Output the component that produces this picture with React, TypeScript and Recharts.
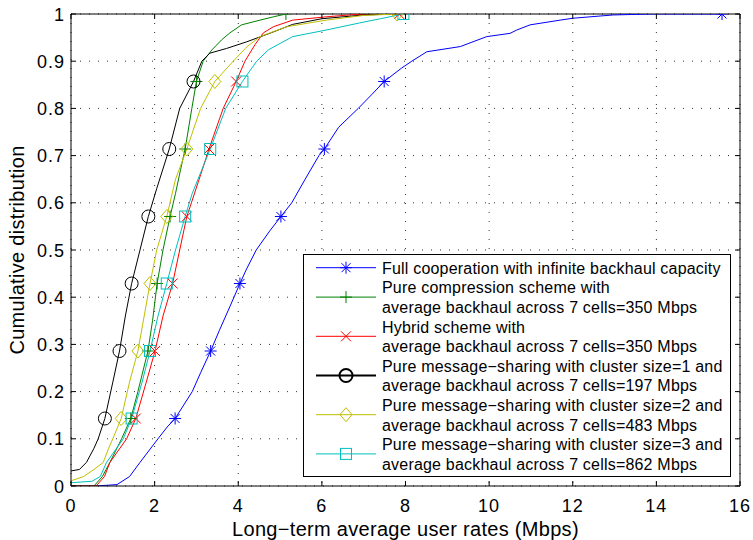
import { ComposedChart, Line, XAxis, YAxis, CartesianGrid, ReferenceLine } from 'recharts';

// CDF levels at which MATLAB put the markers (every 1/7 of users)
const MARK_LEVELS = [0.143, 0.286, 0.429, 0.571, 0.714, 0.857, 1];

const X_TICKS = [0, 2, 4, 6, 8, 10, 12, 14, 16];
const Y_TICKS = [0, 0.1, 0.2, 0.3, 0.4, 0.5, 0.6, 0.7, 0.8, 0.9, 1];

// [rate (Mbps), cumulative fraction]
const fullCoopPts = [
  [0, 0], [0.6, 0], [1.1, 0.003], [1.4, 0.02], [1.65, 0.05], [2.08, 0.1], [2.3, 0.125],
  [2.9, 0.2], [3.1, 0.24], [3.55, 0.33], [3.8, 0.38], [4.2, 0.46], [4.43, 0.5],
  [4.75, 0.54], [5.28, 0.6], [5.6, 0.65], [5.93, 0.7], [6.4, 0.76], [6.87, 0.8],
  [7.2, 0.83], [7.9, 0.885], [8.15, 0.9], [8.51, 0.92], [9.31, 0.931], [9.94, 0.952],
  [10.5, 0.959], [10.66, 0.966], [10.98, 0.977], [11.7, 0.987], [12.0, 0.991],
  [12.97, 0.998], [13.9, 1],
];
const fullCoopMarks = [2.49, 3.34, 4.04, 5.02, 6.06, 7.49, 15.57];

const compressPts = [
  [0, 0], [0.55, 0], [0.75, 0.02], [0.93, 0.05], [1.21, 0.1], [1.6, 0.2], [1.95, 0.35],
  [2.2, 0.5], [2.5, 0.62], [2.62, 0.67], [2.89, 0.8], [3.16, 0.9], [3.37, 0.924],
  [3.6, 0.945], [3.8, 0.96], [4.08, 0.977], [4.52, 0.987], [4.84, 0.994],
];
const compressMarks = [1.43, 1.84, 2.06, 2.37, 2.73, 3.0, 5.14];

const hybridPts = [
  [0, 0], [0.6, 0], [0.8, 0.02], [0.93, 0.05], [1.33, 0.1], [1.8, 0.22], [2.2, 0.36],
  [2.6, 0.5], [2.88, 0.6], [3.25, 0.7], [3.64, 0.8], [4.16, 0.9], [4.4, 0.935],
  [4.6, 0.96], [4.84, 0.973], [5.3, 0.987], [6.1, 0.994], [6.8, 0.999],
];
const hybridMarks = [1.55, 2.01, 2.43, 2.77, 3.3, 3.95, 7.85];

const share1Pts = [
  [0, 0.032], [0.2, 0.035], [0.37, 0.05], [0.55, 0.08], [0.65, 0.1], [1.0, 0.22],
  [1.3, 0.36], [1.65, 0.5], [2.05, 0.63], [2.6, 0.8], [3.13, 0.9], [3.32, 0.917],
  [3.72, 0.927], [4.2, 0.941], [4.84, 0.962], [5.3, 0.978], [6.0, 0.99], [7.0, 0.998],
  [7.8, 1],
];
const share1Marks = [0.81, 1.16, 1.45, 1.85, 2.35, 2.93];

const share2Pts = [
  [0, 0.011], [0.3, 0.02], [0.55, 0.035], [0.77, 0.05], [0.9, 0.08], [1.0, 0.1],
  [1.4, 0.22], [1.75, 0.36], [2.05, 0.5], [2.5, 0.65], [3.1, 0.8], [3.88, 0.9],
  [4.2, 0.93], [4.52, 0.952], [5.16, 0.973], [6.1, 0.987], [7.0, 0.997],
];
const share2Marks = [1.2, 1.6, 1.89, 2.29, 2.77, 3.44, 7.8];

const share3Pts = [
  [0, 0.007], [0.5, 0.01], [0.7, 0.02], [0.85, 0.05], [1.25, 0.1], [1.7, 0.22],
  [2.08, 0.36], [2.5, 0.5], [2.9, 0.62], [3.7, 0.8], [4.44, 0.9], [4.72, 0.924],
  [5.3, 0.952], [6.1, 0.966], [6.9, 0.981], [7.4, 0.99],
];
const share3Marks = [1.45, 1.89, 2.29, 2.73, 3.33, 4.1, 7.95];

const LABELS = [
  ['Full cooperation with infinite backhaul capacity'],
  ['Pure compression scheme with', 'average backhaul across 7 cells=350 Mbps'],
  ['Hybrid scheme with', 'average backhaul across 7 cells=350 Mbps'],
  ['Pure message\u2212sharing with cluster size=1 and', 'average backhaul across 7 cells=197 Mbps'],
  ['Pure message\u2212sharing with cluster size=2 and', 'average backhaul across 7 cells=483 Mbps'],
  ['Pure message\u2212sharing with cluster size=3 and', 'average backhaul across 7 cells=862 Mbps'],
];

function build(pts: number[][], marks: number[]) {
  const out = pts.map(([x, y]) => ({ x, y, m: false }));
  marks.forEach((x, i) => out.push({ x, y: MARK_LEVELS[i], m: true }));
  return out.sort((a, b) => a.y - b.y || a.x - b.x);
}

const SERIES = [
  { key: 'full', color: '#0000ff', shape: 'star', data: build(fullCoopPts, fullCoopMarks) },
  { key: 'comp', color: '#008000', shape: 'plus', data: build(compressPts, compressMarks) },
  { key: 'hyb', color: '#ff0000', shape: 'cross', data: build(hybridPts, hybridMarks) },
  { key: 's1', color: '#000000', shape: 'circle', data: build(share1Pts, share1Marks) },
  { key: 's2', color: '#bfbf00', shape: 'diamond', data: build(share2Pts, share2Marks) },
  { key: 's3', color: '#00bfbf', shape: 'square', data: build(share3Pts, share3Marks) },
];

const FONT = '"Liberation Sans", Arial, Helvetica, sans-serif';
const W = 753;
const H = 540;
const LEFT = 71;
const TOP = 14;
const RIGHT = 740;
const BOTTOM = 486;

function Marker({ shape, cx, cy, color, w = 1 }: any) {
  const p = { stroke: color, strokeWidth: w, fill: 'none' };
  if (shape === 'star')
    return (
      <g {...p}>
        <line x1={cx - 6} y1={cy} x2={cx + 6} y2={cy} />
        <line x1={cx} y1={cy - 6} x2={cx} y2={cy + 6} />
        <line x1={cx - 4.5} y1={cy - 4.5} x2={cx + 4.5} y2={cy + 4.5} />
        <line x1={cx - 4.5} y1={cy + 4.5} x2={cx + 4.5} y2={cy - 4.5} />
      </g>
    );
  if (shape === 'plus')
    return (
      <g {...p}>
        <line x1={cx - 6} y1={cy} x2={cx + 6} y2={cy} />
        <line x1={cx} y1={cy - 6} x2={cx} y2={cy + 6} />
      </g>
    );
  if (shape === 'cross')
    return (
      <g {...p}>
        <line x1={cx - 5} y1={cy - 5} x2={cx + 5} y2={cy + 5} />
        <line x1={cx - 5} y1={cy + 5} x2={cx + 5} y2={cy - 5} />
      </g>
    );
  if (shape === 'circle') return <circle cx={cx} cy={cy} r={6.5} {...p} />;
  if (shape === 'diamond')
    return <polygon points={`${cx},${cy - 7} ${cx + 6},${cy} ${cx},${cy + 7} ${cx - 6},${cy}`} {...p} />;
  return <rect x={cx - 5.5} y={cy - 5.5} width={11} height={11} {...p} />;
}

const dotFor = (shape: string, color: string) => (props: any) => {
  const { cx, cy, payload, index } = props;
  if (!payload.m) return <g key={index} />;
  return <Marker key={index} shape={shape} cx={cx} cy={cy} color={color} />;
};

function XTick({ x, payload }: any) {
  return (
    <g>
      <line x1={x} y1={BOTTOM} x2={x} y2={BOTTOM - 5} stroke="#000" />
      <line x1={x} y1={TOP} x2={x} y2={TOP + 5} stroke="#000" />
      <text x={x} y={512} textAnchor="middle" fontSize={18} letterSpacing={1} fontFamily={FONT} fill="#000">
        {payload.value}
      </text>
    </g>
  );
}

function YTick({ y, payload }: any) {
  return (
    <g>
      <line x1={LEFT} y1={y} x2={LEFT + 5} y2={y} stroke="#000" />
      <line x1={RIGHT} y1={y} x2={RIGHT - 5} y2={y} stroke="#000" />
      <text x={65} y={y + 6.5} textAnchor="end" fontSize={18} letterSpacing={1} fontFamily={FONT} fill="#000">
        {payload.value}
      </text>
    </g>
  );
}

function LegendBox() {
  const bx = 303, by = 254, bw = 427, bh = 222;
  const lineH = 19.6;
  const first = by + 13.7;
  let row = 0;
  const items = LABELS.map((lines, i) => {
    const start = row;
    row += lines.length;
    const cy = first + (start + (lines.length - 1) / 2) * lineH;
    const s = SERIES[i];
    const w = s.shape === 'circle' ? 2 : 1;
    return (
      <g key={s.key}>
        <line x1={316} y1={cy} x2={376} y2={cy} stroke={s.color} strokeWidth={w} />
        <Marker shape={s.shape} cx={346} cy={cy} color={s.color} w={w} />
        {lines.map((t, j) => (
          <text key={j} x={382} y={first + (start + j) * lineH + 6} fontSize={16} letterSpacing={0.2} fontFamily={FONT} fill="#000">
            {t}
          </text>
        ))}
      </g>
    );
  });
  return (
    <svg width={W} height={H} style={{ position: 'absolute', left: 0, top: 0, pointerEvents: 'none' }}>
      <rect x={bx + 0.5} y={by + 0.5} width={bw} height={bh} fill="#fff" stroke="#000" />
      {items}
    </svg>
  );
}

export default function App() {
  return (
    <div style={{ position: 'absolute', left: 0, top: 0, width: W, height: H, background: '#fff', fontFamily: FONT }}>
      <ComposedChart width={W} height={H} margin={{ top: TOP, right: W - RIGHT, left: 0, bottom: 0 }}>
        <CartesianGrid stroke="#333" strokeDasharray="1 8" />
        <XAxis
          dataKey="x"
          type="number"
          domain={[0, 16]}
          ticks={X_TICKS}
          interval={0}
          height={H - BOTTOM}
          tick={XTick}
          tickLine={false}
          axisLine={{ stroke: '#000' }}
          allowDataOverflow
        />
        <YAxis
          dataKey="y"
          type="number"
          domain={[0, 1]}
          ticks={Y_TICKS}
          interval={0}
          width={LEFT}
          tick={YTick}
          tickLine={false}
          axisLine={{ stroke: '#000' }}
          allowDataOverflow
        />
        <ReferenceLine y={1} stroke="#000" />
        <ReferenceLine x={16} stroke="#000" />
        {SERIES.map(s => (
          <Line
            key={s.key}
            data={s.data}
            dataKey="y"
            type="linear"
            stroke={s.color}
            strokeWidth={1}
            dot={dotFor(s.shape, s.color)}
            activeDot={false}
            isAnimationActive={false}
          />
        ))}
      </ComposedChart>
      <LegendBox />
      <div style={{ position: 'absolute', left: LEFT, width: RIGHT - LEFT, top: 518, textAlign: 'center', fontSize: 20, letterSpacing: 0.3, lineHeight: '22px' }}>
        Long{'\u2212'}term average user rates (Mbps)
      </div>
      <div
        style={{
          position: 'absolute', left: 17, top: (TOP + BOTTOM) / 2, fontSize: 20, letterSpacing: 0.3, lineHeight: '22px', whiteSpace: 'nowrap',
          transform: 'translate(-50%, -50%) rotate(-90deg)',
        }}
      >
        Cumulative distribution
      </div>
    </div>
  );
}
